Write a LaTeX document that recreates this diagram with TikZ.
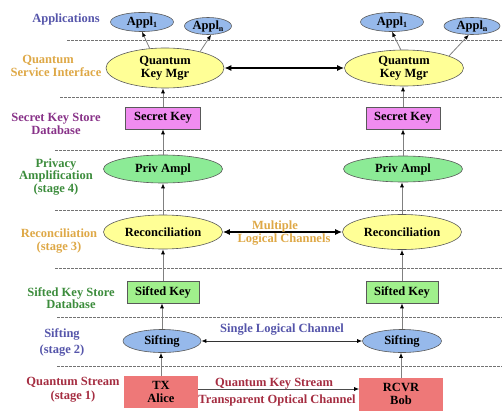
\documentclass[tikz,border=0pt]{standalone}
\usepackage{fontspec}
\setmainfont{Liberation Serif}[BoldFont={Liberation Serif Bold}]
\usetikzlibrary{shapes.geometric,arrows.meta}
\definecolor{cblue}{RGB}{85,85,170}
\definecolor{corange}{RGB}{222,168,70}
\definecolor{cpurple}{RGB}{136,50,136}
\definecolor{cgreen}{RGB}{60,140,60}
\definecolor{cred}{RGB}{165,45,65}
\definecolor{fblue}{RGB}{150,185,235}
\definecolor{fyellow}{RGB}{255,255,150}
\definecolor{fmagenta}{RGB}{240,140,240}
\definecolor{fgreen}{RGB}{140,235,150}
\definecolor{fsift}{RGB}{160,240,140}
\definecolor{fsalmon}{RGB}{238,120,120}
\tikzset{
  lbl/.style={align=center, inner sep=0pt},
  ell/.style={ellipse, draw=black!65, line width=0.6pt, inner sep=0pt, align=center},
  boxnode/.style={rectangle, draw=black!65, line width=0.6pt, inner sep=0pt, align=center},
  sep/.style={draw=black!55, dashed, dash pattern=on 2.5pt off 1.5pt, line width=0.5pt},
  up/.style={draw=black!50, line width=0.8pt, -{Latex[length=5pt,width=4pt,color=black]}},
  thickarr/.style={draw=black, line width=1.4pt, {Latex[length=7pt,width=6pt]}-{Latex[length=7pt,width=6pt]}},
  thinarr/.style={draw=black!80, line width=0.8pt, {Latex[length=5pt,width=4pt,color=black]}-{Latex[length=5pt,width=4pt,color=black]}},
}
\newcommand{\sub}[1]{\raisebox{-2.5pt}{\fontsize{8}{8}\selectfont #1}}
\begin{document}
\begin{tikzpicture}[x=1pt,y=-1pt,font=\bfseries\fontsize{12.5}{12.5}\selectfont]
\useasboundingbox (0,0) rectangle (502,417);
% separators
\coordinate (s1a) at (67,40);  \coordinate (s1b) at (502,40);
\coordinate (s2a) at (60,97);  \coordinate (s2b) at (502,97);
\coordinate (s3a) at (55,150); \coordinate (s3b) at (502,150);
\coordinate (s4a) at (55,210); \coordinate (s4b) at (502,210);
\coordinate (s5a) at (55,268); \coordinate (s5b) at (502,268);
\coordinate (s6a) at (57,317); \coordinate (s6b) at (502,317);
\coordinate (s7a) at (57,366); \coordinate (s7b) at (502,366);
\foreach \i in {1,...,7} { \path[sep] (s\i a) -- (s\i b); }
% left labels
\node[lbl, text=cblue] (lApp) at (66,19) {Applications};
\node[lbl, text=corange] (lQSI) at (56,66) {Quantum\hspace*{16pt}\\Service Interface};
\node[lbl, text=cpurple] (lSKS) at (56,124) {Secret Key Store\\Database};
\node[lbl, text=cgreen] (lPA) at (56,177) {Privacy\\Amplification\\(stage 4)};
\node[lbl, text=corange] (lRec) at (59,241) {Reconciliation\\(stage 3)};
\node[lbl, text=cgreen] (lSKD) at (71,298) {Sifted Key Store\\Database};
\node[lbl, text=cblue, font=\bfseries\fontsize{12.5}{16}\selectfont] (lSif) at (62,342) {Sifting\\(stage 2)};
\node[lbl, text=cred, font=\bfseries\fontsize{12.5}{14}\selectfont] (lQS) at (73,390) {Quantum Stream\\(stage 1)};
% left column
\node[ell, fill=fblue, minimum width=63, minimum height=19] (a1L) at (142,22) {Appl\sub{1}};
\node[ell, fill=fblue, minimum width=47, minimum height=17] (anL) at (208,26) {Appl\sub{n}};
\node[ell, fill=fyellow, minimum width=118, minimum height=40] (qL) at (165,68) {Quantum\\Key Mgr};
\node[boxnode, fill=fmagenta, minimum width=75, minimum height=22] (skL) at (163,118) {Secret Key};
\node[ell, fill=fgreen, minimum width=119, minimum height=28] (paL) at (163,169) {Priv Ampl};
\node[ell, fill=fyellow, minimum width=119, minimum height=34] (rcL) at (163,232) {Reconciliation};
\node[boxnode, fill=fsift, minimum width=72, minimum height=22] (sfL) at (163,292) {Sifted Key};
\node[ell, fill=fblue, minimum width=78, minimum height=23] (siL) at (162,341) {Sifting};
\node[boxnode, draw=fsalmon, fill=fsalmon, minimum width=73, minimum height=31] (tx) at (161,392) {TX\\Alice};
% right column
\node[ell, fill=fblue, minimum width=63, minimum height=19] (a1R) at (392,22) {Appl\sub{1}};
\node[ell, fill=fblue, minimum width=56, minimum height=17] (anR) at (472,26) {Appl\sub{n}};
\node[ell, fill=fyellow, minimum width=119, minimum height=36] (qR) at (404,68) {Quantum\\Key Mgr};
\node[boxnode, fill=fmagenta, minimum width=74, minimum height=22] (skR) at (403,118) {Secret Key};
\node[ell, fill=fgreen, minimum width=119, minimum height=26] (paR) at (403,169) {Priv Ampl};
\node[ell, fill=fyellow, minimum width=119, minimum height=35] (rcR) at (402,232) {Reconciliation};
\node[boxnode, fill=fsift, minimum width=72, minimum height=22] (sfR) at (402,292) {Sifted Key};
\node[ell, fill=fblue, minimum width=79, minimum height=23] (siR) at (402,341) {Sifting};
\node[boxnode, draw=fsalmon, fill=fsalmon, minimum width=83, minimum height=32] (rx) at (401,394) {RCVR\\Bob};
% vertical arrows
\foreach \a/\b in {tx/siL, siL/sfL, sfL/rcL, rcL/paL, paL/skL, skL/qL, rx/siR, siR/sfR, sfR/rcR, rcR/paR, paR/skR, skR/qR} {
  \draw[up] (\a.north) -- (\a.north |- \b.south);
}
\draw[up] (qL.128) -- (a1L.south);
\draw[up] (qL.25) -- (anL.290);
\draw[up] (qR.100) -- (a1R.south);
\draw[up] (qR.15) -- (anR.250);
% horizontal connectors
\draw[thickarr] (qL.east) -- (qR.west);
\draw[thickarr] (rcL.east) -- (rcR.west);
\draw[thinarr] (siL.east) -- (siR.west);
\draw[draw=black!70, line width=0.8pt, -{Latex[length=5pt,width=4pt,color=black]}] ([yshift=3pt]tx.east) -- ([yshift=5pt]rx.west);
% channel labels
\node[lbl, text=corange] (mlc) at (284,233.5) {Multiple\hspace*{18pt}\\[0.5pt]Logical Channels};
\node[lbl, text=cblue] (slc) at (282,330) {Single Logical Channel};
\node[lbl, text=cred, font=\bfseries\fontsize{12.5}{16.5}\selectfont] (qks) at (277,392) {Quantum Key Stream\hspace*{6pt}\\Transparent Optical Channel};
\end{tikzpicture}
\end{document}
